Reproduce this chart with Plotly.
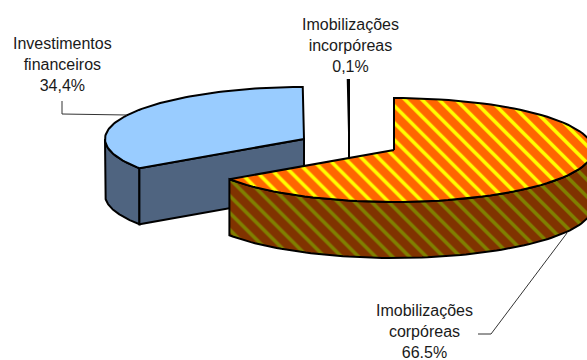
# Pizza 3D da composição do ativo (desenhada com polígonos, o plotly não tem pizza 3D)

import numpy as np
import plotly.graph_objects as go

categorias = ['Imobilizações corpóreas', 'Investimentos financeiros', 'Imobilizações incorpóreas']
valores = [65.5, 34.4, 0.1]  # percentagens medidas pelo ângulo das fatias
rotulos = ['66.5%', '34,4%', '0,1%']  # como estão escritos no gráfico

# Centro de cada fatia (a pizza está "explodida")
centros = [(394, 150), (304, 139), (349, 132)]
RX, RY, ALTURA = 199, 52, 56
FONTE = dict(family='Liberation Sans', size=16, color='#1a1a1a')


def arco(cx, cy, a0, a1, dy=0):
    # ângulo em graus, sentido horário a partir do topo
    t = np.radians(np.linspace(a0, a1, 90))
    return cx + RX * np.sin(t), cy - RY * np.cos(t) + dy


def poligono(x, y, **estilo):
    return go.Scatter(x=np.append(x, x[0]), y=np.append(y, y[0]), mode='lines', fill='toself',
                      line=dict(color='black', width=2), hoverinfo='skip', showlegend=False, **estilo)


angulos = np.cumsum([0] + valores) * 3.6
fig = go.Figure()

# Investimentos financeiros: parede curva, corte da frente e topo
cx, cy = centros[1]
a0, a1 = angulos[1], angulos[2]
x, y = arco(cx, cy, a0, 270)
xb, yb = arco(cx, cy, 270, a0, ALTURA)
fig.add_trace(poligono(np.r_[x, xb], np.r_[y, yb], fillcolor='#4F6480'))
x0, y0 = arco(cx, cy, a0, a0)
fig.add_trace(poligono(np.array([cx, x0[0], x0[0], cx]), np.array([cy, y0[0], y0[0] + ALTURA, cy + ALTURA]),
                       fillcolor='#4F6480'))
x, y = arco(cx, cy, a0, a1)
fig.add_trace(poligono(np.r_[cx, x], np.r_[cy, y], fillcolor='#99CCFF'))

# Imobilizações incorpóreas: fatia quase invisível
cx, cy = centros[2]
x, y = arco(cx, cy, angulos[2], angulos[3])
fig.add_trace(poligono(np.r_[cx, x, cx], np.r_[cy, y, cy + ALTURA], fillcolor='black'))

# Imobilizações corpóreas: parede curva com hachura e topo
cx, cy = centros[0]
a0, a1 = angulos[0], angulos[1]
x, y = arco(cx, cy, 90, a1)
xb, yb = arco(cx, cy, a1, 90, ALTURA)
fig.add_trace(poligono(np.r_[x, xb], np.r_[y, yb], fillcolor='#803300',
                       fillpattern=dict(shape='\\', bgcolor='#803300', fgcolor='#808000',
                                        size=12, solidity=0.3, fillmode='replace')))
x, y = arco(cx, cy, a0, a1)
fig.add_trace(poligono(np.r_[cx, x], np.r_[cy, y], fillcolor='#FF6600',
                       fillpattern=dict(shape='\\', bgcolor='#FF6600', fgcolor='#FFFF00',
                                        size=12, solidity=0.3, fillmode='replace')))

# Rótulos
textos = [
    ('Imobilizações<br>corpóreas<br>' + rotulos[0], 424, 331),
    ('Investimentos<br>financeiros<br>' + rotulos[1], 62, 64),
    ('Imobilizações<br>incorpóreas<br>' + rotulos[2], 350, 45),
]
for texto, xt, yt in textos:
    fig.add_annotation(x=xt, y=yt, text=texto, showarrow=False, font=FONTE, align='center',
                       xref='x', yref='y', yanchor='middle')

# Linhas de chamada
fig.add_shape(type='path', path='M 62 101 L 62 114 L 127 115', line=dict(color='#333333', width=1))
fig.add_shape(type='path', path='M 478 334 L 491 334 L 567 233', line=dict(color='#333333', width=1))

fig.update_layout(
    width=587, height=360,
    margin=dict(l=0, r=0, t=0, b=0),
    paper_bgcolor='white', plot_bgcolor='white',
    xaxis=dict(range=[0, 587], visible=False),
    yaxis=dict(range=[360, 0], visible=False),
)
# Tira a margem padrão da página e a barra de ferramentas
fig.write_html('out.html', config={'displayModeBar': False}, post_script="document.body.style.margin='0';")
